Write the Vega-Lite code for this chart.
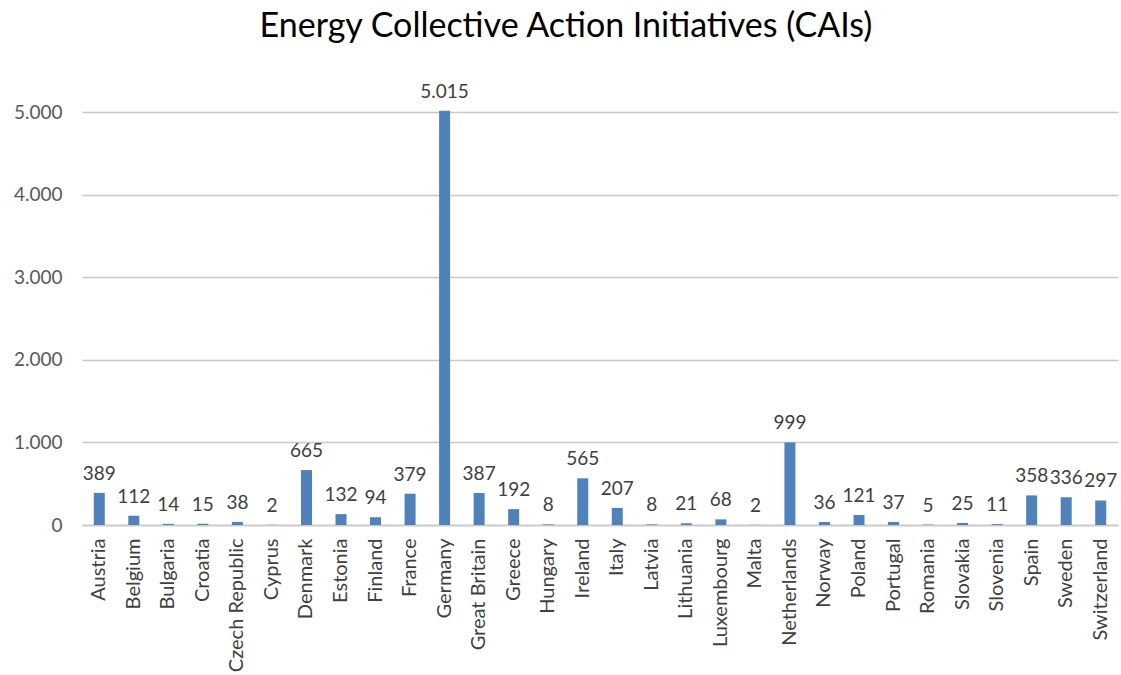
{
  "$schema": "https://vega.github.io/schema/vega-lite/v6.json",
  "width": 1036,
  "height": 413,
  "autosize": {"type": "none"},
  "padding": {"left": 82, "top": 112, "right": 3, "bottom": 150},
  "background": "white",
  "title": {
    "text": "Energy Collective Action Initiatives (CAIs)",
    "font": "Lato",
    "fontSize": 34,
    "fontWeight": "normal",
    "color": "#000000",
    "anchor": "middle",
    "dx": -34,
    "offset": 39
  },
  "config": {
    "locale": {"number": {"decimal": ",", "thousands": ".", "grouping": [3], "currency": ["", " €"]}},
    "view": {"stroke": null},
    "font": "Lato"
  },
  "data": {
    "values": [
      {"country": "Austria", "cais": 389},
      {"country": "Belgium", "cais": 112},
      {"country": "Bulgaria", "cais": 14},
      {"country": "Croatia", "cais": 15},
      {"country": "Czech Republic", "cais": 38},
      {"country": "Cyprus", "cais": 2},
      {"country": "Denmark", "cais": 665},
      {"country": "Estonia", "cais": 132},
      {"country": "Finland", "cais": 94},
      {"country": "France", "cais": 379},
      {"country": "Germany", "cais": 5015},
      {"country": "Great Britain", "cais": 387},
      {"country": "Greece", "cais": 192},
      {"country": "Hungary", "cais": 8},
      {"country": "Ireland", "cais": 565},
      {"country": "Italy", "cais": 207},
      {"country": "Latvia", "cais": 8},
      {"country": "Lithuania", "cais": 21},
      {"country": "Luxembourg", "cais": 68},
      {"country": "Malta", "cais": 2},
      {"country": "Netherlands", "cais": 999},
      {"country": "Norway", "cais": 36},
      {"country": "Poland", "cais": 121},
      {"country": "Portugal", "cais": 37},
      {"country": "Romania", "cais": 5},
      {"country": "Slovakia", "cais": 25},
      {"country": "Slovenia", "cais": 11},
      {"country": "Spain", "cais": 358},
      {"country": "Sweden", "cais": 336},
      {"country": "Switzerland", "cais": 297}
    ]
  },
  "encoding": {
    "x": {
      "field": "country",
      "type": "nominal",
      "sort": null,
      "title": null,
      "scale": {"paddingInner": 0, "paddingOuter": 0},
      "axis": {
        "labelAngle": -90,
        "labelFontSize": 20,
        "labelColor": "#404040",
        "labelPadding": 13,
        "ticks": false,
        "domainColor": "#c8c8c8",
        "domainWidth": 1.5,
        "labelFont": "Lato",
        "labelOverlap": false
      }
    },
    "y": {
      "field": "cais",
      "type": "quantitative",
      "title": null,
      "scale": {"domain": [0, 5000], "nice": false},
      "axis": {
        "values": [0, 1000, 2000, 3000, 4000, 5000],
        "format": ",d",
        "labelFontSize": 19,
        "labelColor": "#595959",
        "labelPadding": 20,
        "ticks": false,
        "domain": false,
        "gridColor": "#c8c8c8",
        "gridWidth": 1.5,
        "labelFont": "Lato"
      }
    }
  },
  "layer": [
    {
      "mark": {"type": "bar", "color": "#4f81bd", "width": 11, "clip": false}
    },
    {
      "mark": {"type": "text", "baseline": "alphabetic", "dy": -13, "fontSize": 19, "color": "#404040", "font": "Lato"},
      "encoding": {
        "text": {"field": "cais", "type": "quantitative", "format": ",d"}
      }
    }
  ]
}
